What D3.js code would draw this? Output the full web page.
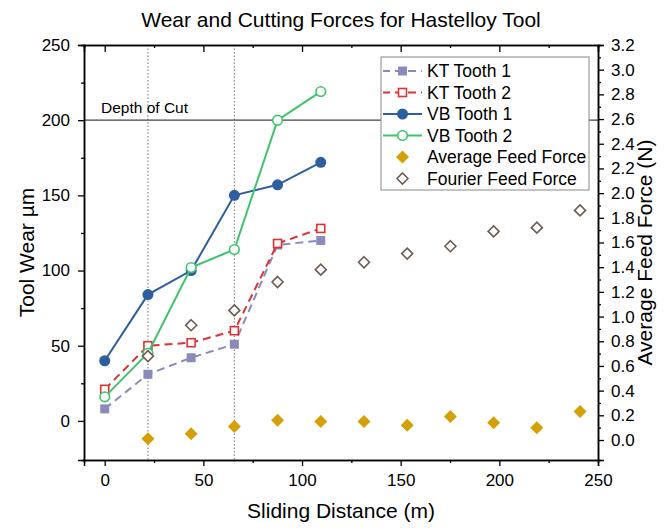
<!DOCTYPE html>
<html>
<head>
<meta charset="utf-8">
<script src="https://cdn.jsdelivr.net/npm/d3@7"></script>
<style>
  body { margin: 0; background: #fff; }
  text { font-family: Arial, "Liberation Sans", sans-serif; }
</style>
</head>
<body>
<div id="chart"></div>
<script>
// sliding distance of each measurement (m)
const distWear = [0, 21.9, 43.8, 65.7, 87.6, 109.5];
const distForce = [21.9, 43.8, 65.7, 87.6, 109.5, 131.4, 153.3, 175.2, 197.1, 219, 240.9];

// tool wear (µm)
const ktTooth1 = [8, 31, 42, 51, 117, 120];
const ktTooth2 = [21, 50, 52, 60, 118, 128];
const vbTooth1 = [40, 84, 100, 150, 157, 172];
const vbTooth2 = [16, 45, 102, 114, 200, 219];

// feed force (N)
const avgForce = [0.01, 0.05, 0.11, 0.16, 0.15, 0.15, 0.12, 0.19, 0.14, 0.10, 0.23];
const fourierForce = [0.68, 0.93, 1.05, 1.28, 1.38, 1.44, 1.51, 1.57, 1.69, 1.72, 1.86];

const depthOfCut = 200;
const markerLines = [21.9, 65.7];

const xTicks = [0, 50, 100, 150, 200, 250];
const yTicks = [0, 50, 100, 150, 200, 250];
const rTicks = d3.range(0, 3.21, 0.2);

const width = 664, height = 528;
const mLeft = 84, mRight = 598, mTop = 45, mBottom = 460;

const svg = d3.select("#chart").append("svg")
    .attr("width", width)
    .attr("height", height)
    .style("display", "block");

const x = d3.scaleLinear().domain([-10.5, 250]).range([mLeft, mRight]);
const yL = d3.scaleLinear().domain([-26, 250]).range([mBottom, mTop]);
const yR = d3.scaleLinear().domain([-0.162, 3.2]).range([mBottom, mTop]);

// title
svg.append("text")
    .attr("x", 341).attr("y", 27)
    .attr("text-anchor", "middle")
    .style("font-size", "21px")
    .text("Wear and Cutting Forces for Hastelloy Tool");

// dotted guide lines
svg.selectAll(".guide")
    .data(markerLines)
    .enter().append("line")
    .attr("x1", d => x(d)).attr("x2", d => x(d))
    .attr("y1", mTop).attr("y2", mBottom)
    .attr("stroke", "#777")
    .attr("stroke-width", 1)
    .attr("stroke-dasharray", "1.5,2");

// depth of cut line
svg.append("line")
    .attr("x1", mLeft).attr("x2", mRight)
    .attr("y1", yL(depthOfCut)).attr("y2", yL(depthOfCut))
    .attr("stroke", "#444")
    .attr("stroke-width", 1.2);
svg.append("text")
    .attr("x", 101).attr("y", 113)
    .style("font-size", "15.5px")
    .text("Depth of Cut");

// axes
function styleAxis(g) {
    g.selectAll("path").attr("stroke", "#000").attr("stroke-width", 1.5);
    g.selectAll("line").attr("stroke", "#000").attr("stroke-width", 1.3);
    g.selectAll("text").style("font-size", "17px").attr("fill", "#000")
        .style("font-family", "Arial, 'Liberation Sans', sans-serif");
}

const xMinor = [25, 75, 125, 175, 225];
const yMinor = [25, 75, 125, 175, 225];
const rMinor = d3.range(0.1, 3.2, 0.2);

svg.append("g").attr("transform", `translate(0,${mBottom})`)
    .call(d3.axisBottom(x).tickValues(xTicks).tickSize(6).tickPadding(8).tickFormat(d3.format("d")))
    .call(styleAxis);
svg.append("g").attr("transform", `translate(0,${mBottom})`)
    .call(d3.axisBottom(x).tickValues(xMinor).tickSize(3).tickFormat(""))
    .call(styleAxis);
svg.append("g").attr("transform", `translate(0,${mTop})`)
    .call(d3.axisBottom(x).tickValues(xTicks).tickSize(7).tickFormat(""))
    .call(styleAxis);
svg.append("g").attr("transform", `translate(0,${mTop})`)
    .call(d3.axisBottom(x).tickValues(xMinor).tickSize(3).tickFormat(""))
    .call(styleAxis);

svg.append("g").attr("transform", `translate(${mLeft},0)`)
    .call(d3.axisLeft(yL).tickValues(yTicks).tickSize(6).tickPadding(8).tickFormat(d3.format("d")))
    .call(styleAxis);
svg.append("g").attr("transform", `translate(${mLeft},0)`)
    .call(d3.axisLeft(yL).tickValues(yMinor).tickSize(3).tickFormat(""))
    .call(styleAxis);

svg.append("g").attr("transform", `translate(${mRight},0)`)
    .call(d3.axisRight(yR).tickValues(rTicks).tickSize(6).tickPadding(7).tickFormat(d3.format(".1f")))
    .call(styleAxis);
svg.append("g").attr("transform", `translate(${mRight},0)`)
    .call(d3.axisRight(yR).tickValues(rMinor).tickSize(3).tickFormat(""))
    .call(styleAxis);

// axis titles
svg.append("text")
    .attr("x", (mLeft + mRight) / 2).attr("y", 518)
    .attr("text-anchor", "middle")
    .style("font-size", "21px")
    .text("Sliding Distance (m)");
svg.append("text")
    .attr("transform", `translate(34,${(mTop + mBottom) / 2}) rotate(-90)`)
    .attr("text-anchor", "middle")
    .style("font-size", "21px")
    .text("Tool Wear µm");
svg.append("text")
    .attr("transform", `translate(652,${(mTop + mBottom) / 2}) rotate(-90)`)
    .attr("text-anchor", "middle")
    .style("font-size", "21px")
    .text("Average Feed Force (N)");

// series
const series = [
    {name: "KT Tooth 1", values: ktTooth1, color: "#8b8bbb", dash: "8,5", shape: "square", fill: true},
    {name: "KT Tooth 2", values: ktTooth2, color: "#dd3333", dash: "8,5", shape: "square", fill: false},
    {name: "VB Tooth 1", values: vbTooth1, color: "#2d5f9e", dash: null, shape: "circle", fill: true},
    {name: "VB Tooth 2", values: vbTooth2, color: "#3cc46c", dash: null, shape: "circle", fill: false}
];

function drawMarker(g, shape, cx, cy, color, fill) {
    if (shape === "circle") {
        g.append("circle").attr("cx", cx).attr("cy", cy).attr("r", fill ? 5.5 : 4.8)
            .attr("fill", fill ? color : "#fff")
            .attr("stroke", color).attr("stroke-width", fill ? 0 : 1.6);
    } else if (shape === "square") {
        const s = fill ? 9 : 8;
        g.append("rect").attr("x", cx - s / 2).attr("y", cy - s / 2)
            .attr("width", s).attr("height", s)
            .attr("fill", fill ? color : "#fff")
            .attr("stroke", color).attr("stroke-width", fill ? 0 : 1.6);
    } else if (shape === "diamond") {
        const r = fill ? 6.5 : 5.5;
        g.append("path")
            .attr("d", `M${cx},${cy - r}L${cx + r},${cy}L${cx},${cy + r}L${cx - r},${cy}Z`)
            .attr("fill", fill ? color : "#fff")
            .attr("stroke", color).attr("stroke-width", fill ? 0 : 1.6);
    }
}

const line = d3.line().x(d => x(d[0])).y(d => yL(d[1]));

series.forEach(s => {
    const pts = distWear.map((d, i) => [d, s.values[i]]);
    svg.append("path")
        .datum(pts)
        .attr("d", line)
        .attr("fill", "none")
        .attr("stroke", s.color)
        .attr("stroke-width", 2)
        .attr("stroke-dasharray", s.dash);
    const g = svg.append("g");
    pts.forEach(p => drawMarker(g, s.shape, x(p[0]), yL(p[1]), s.color, s.fill));
});

const avgColor = "#d4a006";
const fourierColor = "#6e5c52";
const gA = svg.append("g");
distForce.forEach((d, i) => drawMarker(gA, "diamond", x(d), yR(avgForce[i]), avgColor, true));
const gF = svg.append("g");
distForce.forEach((d, i) => drawMarker(gF, "diamond", x(d), yR(fourierForce[i]), fourierColor, false));

// legend
const legendItems = series.concat([
    {name: "Average Feed Force", color: avgColor, dash: "none-line", shape: "diamond", fill: true},
    {name: "Fourier Feed Force", color: fourierColor, dash: "none-line", shape: "diamond", fill: false}
]);
const lg = svg.append("g");
lg.append("rect")
    .attr("x", 381).attr("y", 57)
    .attr("width", 208).attr("height", 133)
    .attr("fill", "#fff")
    .attr("stroke", "#888")
    .attr("stroke-width", 1);
legendItems.forEach((d, i) => {
    const cy = 71 + i * 21.5;
    if (d.dash !== "none-line") {
        lg.append("line")
            .attr("x1", 383).attr("x2", 422)
            .attr("y1", cy).attr("y2", cy)
            .attr("stroke", d.color).attr("stroke-width", 2)
            .attr("stroke-dasharray", d.dash ? "8,5" : null)
            .attr("stroke-dashoffset", d.dash ? 1 : null);
    }
    drawMarker(lg, d.shape, 402.5, cy, d.color, d.fill);
    lg.append("text")
        .attr("x", 427).attr("y", cy + 6)
        .style("font-size", "17.5px")
        .text(d.name);
});
</script>
</body>
</html>
